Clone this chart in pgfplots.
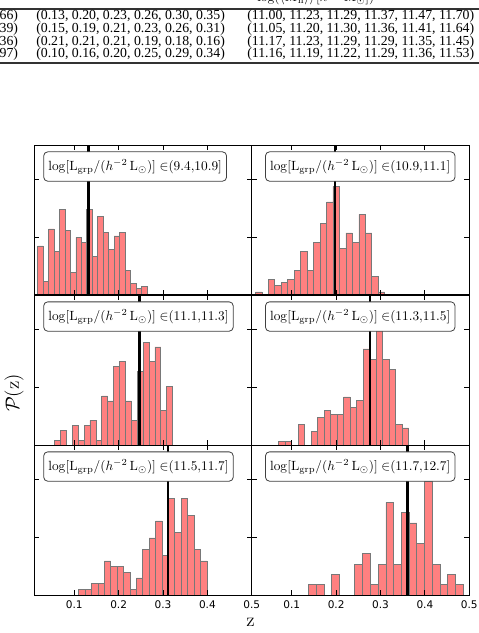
\documentclass[border=0pt]{standalone}
\usepackage[no-math]{fontspec}
\setmainfont{Liberation Serif}
\newfontfamily\ticksf{DejaVu Sans}
\usepackage{pgfplots}
\pgfplotsset{compat=1.18}

\definecolor{barfill}{RGB}{255,128,128}
\definecolor{baredge}{RGB}{120,120,120}

\newcommand{\lumbin}[1]{$\log[\mathrm{L}_{\mathrm{grp}}/(h^{-2}\,\mathrm{L}_{\odot})]\;{\in}(#1]$}

\pgfplotsset{
  panel/.style={
    anchor=south west, scale only axis,
    width=163.125pt, height=112.5pt,
    xmin=0.01, xmax=0.5, ymin=0, ymax=13.04,
    xtick={0.1,0.2,0.3,0.4,0.5}, ytick={5,10}, yticklabels={},
    tick align=inside, xtick pos=both, ytick pos=both,
    major tick length=3.75pt,
    axis line style={line width=0.75pt},
    every tick/.style={black, line width=0.75pt},
    xticklabel style={font=\fontsize{7.9}{9}\ticksf, yshift=-1pt},
    axis on top,
  },
  bars/.style={ybar interval, fill=barfill, draw=baredge, line width=0.5pt},
  median/.style={black, line width=1.7pt, forget plot},
}
\tikzset{
  lbl/.style={anchor=north west, draw=black!75, fill=white, rounded corners=3pt,
    line width=0.6pt, inner xsep=3.5pt, inner ysep=5.5pt,
    font=\fontsize{10}{12}\selectfont},
}

\begin{document}
\begin{tikzpicture}
\path[use as bounding box] (0,0) rectangle (359.25pt,474.75pt);

% table rows above the figure
\begin{scope}
\clip (0,0) rectangle (359.25pt,474.75pt);
\node[anchor=base west, inner sep=0, font=\fontsize{10.35}{12}\selectfont] at (192.75pt,473.25pt)
  {$\log(\langle M_{\rm h}\rangle/[h^{-1}\,\mathrm{M}_{\odot}])$};
\draw[line width=1.2pt, black!80] (0,467.8pt) -- (359.25pt,467.8pt);
\draw[line width=1.4pt, black!80] (0,427.3pt) -- (359.25pt,427.3pt);
\begin{scope}[every node/.style={inner sep=0, font=\fontsize{10.35}{12}\selectfont}]
\node[anchor=base east] at (13.7pt,460.1pt) {66)};
\node[anchor=base west] at (27pt,460.1pt) {(0.13, 0.20, 0.23, 0.26, 0.30, 0.35)};
\node[anchor=base west] at (185.25pt,460.1pt) {(11.00, 11.23, 11.29, 11.37, 11.47, 11.70)};
\node[anchor=base east] at (13.7pt,450pt) {39)};
\node[anchor=base west] at (27pt,450pt) {(0.15, 0.19, 0.21, 0.23, 0.26, 0.31)};
\node[anchor=base west] at (185.25pt,450pt) {(11.05, 11.20, 11.30, 11.36, 11.41, 11.64)};
\node[anchor=base east] at (13.7pt,440.6pt) {36)};
\node[anchor=base west] at (27pt,440.6pt) {(0.21, 0.21, 0.21, 0.19, 0.18, 0.16)};
\node[anchor=base west] at (185.25pt,440.6pt) {(11.17, 11.23, 11.29, 11.29, 11.35, 11.45)};
\node[anchor=base east] at (13.7pt,431.6pt) {97)};
\node[anchor=base west] at (27pt,431.6pt) {(0.10, 0.16, 0.20, 0.25, 0.29, 0.34)};
\node[anchor=base west] at (185.25pt,431.6pt) {(11.16, 11.19, 11.22, 11.29, 11.36, 11.53)};
\end{scope}
\end{scope}

% row 1, left
\begin{axis}[panel, at={(25.725pt,253.5pt)}, xticklabels={}]
\addplot[bars] coordinates {(0.0174,4.26) (0.0297,1.20) (0.0420,5.74) (0.0544,3.78) (0.0667,7.42) (0.0790,5.59) (0.0913,1.94) (0.1036,5.00) (0.1160,4.54) (0.1283,7.42) (0.1406,3.32) (0.1529,6.83) (0.1652,5.45) (0.1776,3.93) (0.1899,5.13) (0.2022,5.46) (0.2145,2.11) (0.2268,1.04) (0.2392,0.59) (0.2515,0.72) (0.2638,0)};
\addplot[median] coordinates {(0.132,0) (0.132,13.04)};
\node[lbl] at (rel axis cs:0.0414,0.957) {\lumbin{9.4{,}10.9}};
\end{axis}

% row 1, right
\begin{axis}[panel, at={(188.85pt,253.5pt)}, xticklabels={}]
\addplot[bars] coordinates {(0.0181,0.27) (0.0327,0) (0.0472,1.35) (0.0618,0.81) (0.0764,1.08) (0.0909,1.35) (0.1055,2.16) (0.1201,3.77) (0.1346,2.16) (0.1492,4.58) (0.1638,6.20) (0.1783,8.09) (0.1929,9.44) (0.2075,4.04) (0.2220,5.39) (0.2366,4.58) (0.2512,7.01) (0.2657,5.39) (0.2803,1.62) (0.2949,0.27) (0.3094,0)};
\addplot[median] coordinates {(0.198,0) (0.198,13.04)};
\node[lbl] at (rel axis cs:0.061,0.957) {\lumbin{10.9{,}11.1}};
\end{axis}

% row 2, left
\begin{axis}[panel, at={(25.725pt,141pt)}, xticklabels={}]
\addplot[bars] coordinates {(0.0557,0.43) (0.0690,1.28) (0.0823,0) (0.0956,1.70) (0.1089,0.43) (0.1221,1.70) (0.1354,2.13) (0.1487,0.43) (0.1620,4.26) (0.1753,3.83) (0.1886,6.82) (0.2019,7.24) (0.2152,3.83) (0.2285,2.13) (0.2417,6.39) (0.2550,8.95) (0.2683,7.24) (0.2816,8.52) (0.2949,2.98) (0.3082,5.11) (0.3215,0)};
\addplot[median] coordinates {(0.247,0) (0.247,13.04)};
\node[lbl] at (rel axis cs:0.0414,0.957) {\lumbin{11.1{,}11.3}};
\end{axis}

% row 2, right
\begin{axis}[panel, at={(188.85pt,141pt)}, xticklabels={}]
\addplot[bars] coordinates {(0.0703,0.30) (0.0849,0.30) (0.0996,0) (0.1142,1.79) (0.1289,0) (0.1435,1.19) (0.1581,2.39) (0.1728,2.98) (0.1874,2.68) (0.2021,2.68) (0.2167,4.18) (0.2313,3.28) (0.2460,3.88) (0.2606,8.35) (0.2753,7.46) (0.2899,10.14) (0.3045,7.46) (0.3192,6.56) (0.3338,1.79) (0.3485,1.49) (0.3631,0)};
\addplot[median] coordinates {(0.277,0) (0.277,13.04)};
\node[lbl] at (rel axis cs:0.061,0.957) {\lumbin{11.3{,}11.5}};
\end{axis}

% row 3, left
\begin{axis}[panel, at={(25.725pt,28.5pt)}, xticklabels={0.1,0.2,0.3,0.4,0.5}]
\addplot[bars] coordinates {(0.1098,0.50) (0.1243,0.50) (0.1387,0.99) (0.1532,0.99) (0.1676,2.97) (0.1821,2.48) (0.1965,2.48) (0.2110,1.98) (0.2254,0.50) (0.2399,1.49) (0.2543,3.97) (0.2688,4.96) (0.2832,6.44) (0.2977,3.47) (0.3121,8.43) (0.3266,5.45) (0.3410,8.43) (0.3555,6.94) (0.3699,3.97) (0.3844,2.97) (0.3988,0)};
\addplot[median] coordinates {(0.311,0) (0.311,13.04)};
\node[lbl] at (rel axis cs:0.0414,0.957) {\lumbin{11.5{,}11.7}};
\end{axis}

% row 3, right
\begin{axis}[panel, at={(188.85pt,28.5pt)}, xticklabels={0.1,0.2,0.3,0.4,0.5}]
\addplot[bars] coordinates {(0.1374,0.90) (0.1549,0.90) (0.1723,0) (0.1898,1.79) (0.2072,0) (0.2247,0) (0.2421,2.69) (0.2596,3.58) (0.2770,0.90) (0.2945,2.69) (0.3120,8.06) (0.3294,2.69) (0.3469,7.17) (0.3643,6.27) (0.3818,4.48) (0.3992,9.85) (0.4167,2.69) (0.4341,0.90) (0.4516,1.79) (0.4690,0.90) (0.4865,0)};
\addplot[median] coordinates {(0.361,0) (0.361,13.04)};
\node[lbl] at (rel axis cs:0.061,0.957) {\lumbin{11.7{,}12.7}};
\end{axis}

% shared axis labels
\node[rotate=90, font=\fontsize{15}{18}\selectfont] at (10.5pt,180pt) {$\mathcal{P}(\mathrm{z})$};
\node[font=\fontsize{15}{18}\selectfont] at (187.9pt,7.9pt) {$\mathrm{z}$};
\end{tikzpicture}
\end{document}
